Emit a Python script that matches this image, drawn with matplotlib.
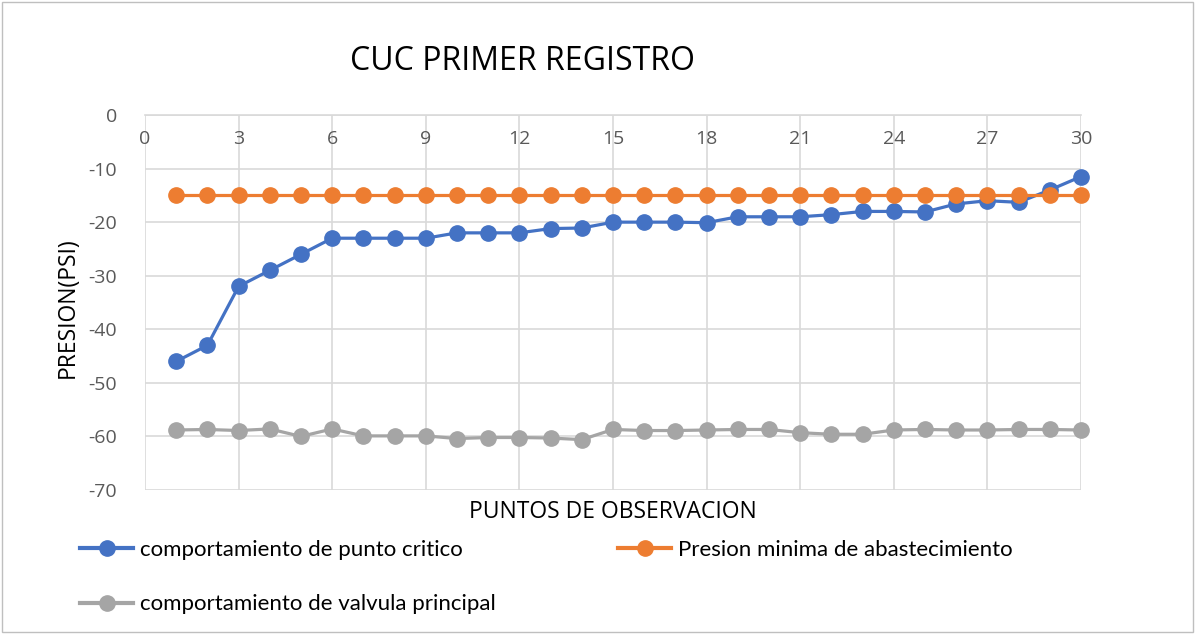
import matplotlib
matplotlib.use("Agg")
import matplotlib.pyplot as plt
from matplotlib.lines import Line2D
from matplotlib.patches import Rectangle

# Observation points and measured pressures (PSI)
puntos = list(range(1, 31))
punto_critico = [-46, -43, -32, -29, -26, -23, -23, -23, -23, -22,
                 -22, -22, -21.2, -21.1, -20, -20, -20, -20.1, -19, -19,
                 -19, -18.6, -18, -18, -18.1, -16.6, -16, -16.3, -14, -11.5]
presion_minima = [-15] * 30
valvula_principal = [-58.8, -58.7, -58.9, -58.6, -60, -58.6, -59.9, -59.9, -59.9, -60.4,
                     -60.2, -60.2, -60.3, -60.6, -58.7, -58.9, -58.9, -58.8, -58.7, -58.7,
                     -59.3, -59.6, -59.6, -58.8, -58.7, -58.8, -58.8, -58.7, -58.7, -58.8]

x_ticks = list(range(0, 31, 3))
y_ticks = list(range(0, -71, -10))

BLUE = "#4472C4"
ORANGE = "#ED7D31"
GRAY = "#A5A5A5"
GRID = "#D9D9D9"
TEXT = "#595959"

plt.rcParams["font.family"] = ["Open Sans", "DejaVu Sans"]
plt.rcParams["axes.unicode_minus"] = False

fig = plt.figure(figsize=(11.95, 6.34), dpi=100)
ax = fig.add_axes([145 / 1195, 1 - 490 / 634, (1081 - 145) / 1195, (490 - 115) / 634])

# outer chart frame
fig.patches.append(Rectangle((0.002, 0.003), 0.996, 0.994, transform=fig.transFigure,
                             fill=False, edgecolor="#BFBFBF", linewidth=1.0))

ax.set_xlim(0, 30)
ax.set_ylim(-70, 0)
ax.set_xticks(x_ticks)
ax.set_yticks(y_ticks)
ax.grid(True, color=GRID, linewidth=1.2)
ax.set_axisbelow(True)

for side in ("top", "right", "left"):
    ax.spines[side].set_visible(False)
ax.spines["bottom"].set_position(("data", 0))
ax.spines["bottom"].set_color(GRID)
ax.spines["bottom"].set_linewidth(1.2)

ax.tick_params(axis="both", length=0, colors=TEXT, labelsize=14)
ax.tick_params(axis="x", pad=11)
ax.tick_params(axis="y", pad=20)

series = [
    (punto_critico, BLUE, "comportamiento de punto critico"),
    (presion_minima, ORANGE, "Presion minima de abastecimiento"),
    (valvula_principal, GRAY, "comportamiento de valvula principal"),
]
for values, color, label in series:
    ax.plot(puntos, values, color=color, linewidth=2.3, marker="o", markersize=11,
            markeredgecolor=color, label=label, clip_on=False, zorder=3)

fig.text(522 / 1195, 1 - 62 / 634, "CUC PRIMER REGISTRO", ha="center", va="center",
         fontsize=23, color="#000000")
fig.text(613 / 1195, 1 - 512 / 634, "PUNTOS DE OBSERVACION", ha="center", va="center",
         fontsize=16.5, color="#000000")
fig.text(68 / 1195, 1 - 308 / 634, "PRESION(PSI)", ha="center", va="center",
         rotation=90, fontsize=16.5, color="#000000")

# legend filled column-wise: blue, gray in the first column, orange in the second
order = [0, 2, 1]
handles = [Line2D([0], [0], color=series[i][1], linewidth=3, marker="o", markersize=11)
           for i in order]
labels = [series[i][2] for i in order]
fig.legend(handles, labels, loc="upper left", bbox_to_anchor=(71 / 1195, 1 - 531 / 634),
           ncol=2, frameon=False, handlelength=2.4, handletextpad=0.3,
           columnspacing=5.5, labelspacing=1.55, borderaxespad=0,
           prop={"family": ["Lato", "DejaVu Sans"], "size": 16})

fig.savefig("out.png", dpi=100)
